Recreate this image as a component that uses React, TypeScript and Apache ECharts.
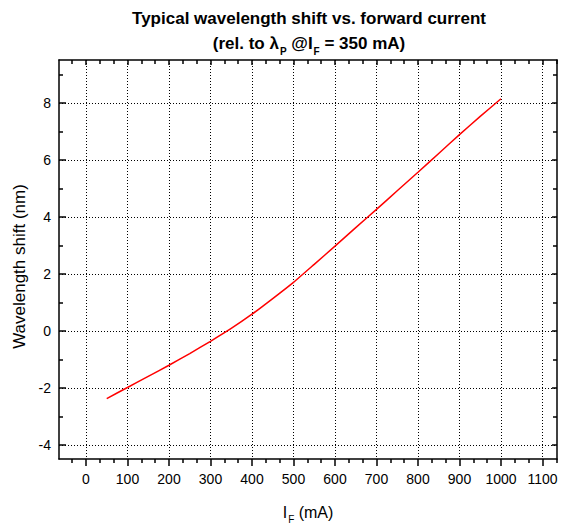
import React, { useEffect, useRef } from "react";
import * as echarts from "echarts";

// ---- Data ----
const currentsMA = [50, 100, 150, 200, 250, 300, 350, 400, 450, 500, 550, 600, 650, 700, 750, 800, 850, 900, 950, 1000];
const wavelengthShiftNm = [-2.38, -1.99, -1.6, -1.21, -0.8, -0.37, 0.08, 0.58, 1.13, 1.7, 2.33, 2.97, 3.62, 4.26, 4.91, 5.56, 6.22, 6.88, 7.52, 8.14];

// ---- Axis ticks ----
const xMajorTicks = [0, 100, 200, 300, 400, 500, 600, 700, 800, 900, 1000, 1100];
const xMinorTicks = [-33.33, 33.33, 66.67, 133.33, 166.67, 233.33, 266.67, 333.33, 366.67, 433.33, 466.67, 533.33, 566.67, 633.33, 666.67, 733.33, 766.67, 833.33, 866.67, 933.33, 966.67, 1033.33, 1066.67, 1133.33];
const yMajorTicks = [-4, -2, 0, 2, 4, 6, 8];
const yMinorTicks = [-3, -1, 1, 3, 5, 7, 9];
const xRange = [-65, 1135];
const yRange = [-4.5, 9.5];

const FONT = "'Liberation Sans', Arial, Helvetica, sans-serif";
const AXIS_LINE = { color: "#000", width: 1.5 };
const GRID_LINE = { color: "#000", width: 1, type: [1, 2] as any };

function xAxisDef(position: "bottom" | "top", ticks: number[], major: boolean) {
  const isBottom = position === "bottom";
  return {
    type: "value",
    position,
    min: xRange[0],
    max: xRange[1],
    axisLine: { show: major, onZero: false, lineStyle: AXIS_LINE },
    axisTick: {
      show: true,
      inside: !isBottom,
      length: major ? (isBottom ? 7 : 5) : 4,
      customValues: ticks,
      lineStyle: AXIS_LINE,
    },
    axisLabel: isBottom && major
      ? {
          show: true,
          customValues: ticks,
          formatter: (v: number) => String(v),
          fontSize: 14,
          color: "#000",
          fontFamily: FONT,
          margin: 13,
        }
      : { show: false },
    splitLine: isBottom && major ? { show: true, lineStyle: GRID_LINE } : { show: false },
    minorTick: { show: false },
    minorSplitLine: { show: false },
    ...(isBottom && major
      ? {
          name: "{a|I}{s|F}{a| (mA)}",
          nameLocation: "middle",
          nameGap: 41,
          nameTextStyle: {
            color: "#000",
            rich: {
              a: { fontSize: 16, fontFamily: FONT, color: "#000" },
              s: { fontSize: 10, fontFamily: FONT, color: "#000", padding: [14, 0, 0, 1] },
            },
          },
        }
      : {}),
  };
}

function yAxisDef(position: "left" | "right", ticks: number[], major: boolean) {
  const isLeft = position === "left";
  return {
    type: "value",
    position,
    min: yRange[0],
    max: yRange[1],
    axisLine: { show: major, onZero: false, lineStyle: AXIS_LINE },
    axisTick: {
      show: true,
      inside: true,
      length: major ? (isLeft ? 7 : 5) : 4,
      customValues: ticks,
      lineStyle: AXIS_LINE,
    },
    axisLabel: isLeft && major
      ? {
          show: true,
          customValues: ticks,
          formatter: (v: number) => String(v),
          fontSize: 14,
          color: "#000",
          fontFamily: FONT,
          margin: 8,
        }
      : { show: false },
    splitLine: isLeft && major ? { show: true, lineStyle: GRID_LINE } : { show: false },
    minorTick: { show: false },
    minorSplitLine: { show: false },
    ...(isLeft && major
      ? {
          name: "Wavelength shift (nm)",
          nameLocation: "middle",
          nameGap: 29,
          nameTextStyle: { color: "#000", fontSize: 17, fontFamily: FONT, padding: [0, 14, 0, 0] },
        }
      : {}),
  };
}

export default function App() {
  const ref = useRef<HTMLDivElement>(null);

  useEffect(() => {
    if (!ref.current) return;
    const chart = echarts.init(ref.current, undefined, { renderer: "svg" });
    const option: any = {
      animation: false,
      backgroundColor: "#fff",
      grid: { left: 59, right: 10, top: 60, bottom: 65, containLabel: false, outerBoundsMode: "none" },
      xAxis: [
        xAxisDef("bottom", xMajorTicks, true),
        xAxisDef("bottom", xMinorTicks, false),
        xAxisDef("top", xMajorTicks, true),
        xAxisDef("top", xMinorTicks, false),
      ],
      yAxis: [
        yAxisDef("left", yMajorTicks, true),
        yAxisDef("left", yMinorTicks, false),
        yAxisDef("right", yMajorTicks, true),
        yAxisDef("right", yMinorTicks, false),
      ],
      graphic: [
        {
          type: "text",
          x: 309,
          y: 18,
          style: {
            text: "Typical wavelength shift vs. forward current",
            fontSize: 17,
            fontWeight: "bold",
            fontFamily: FONT,
            fill: "#000",
            align: "center",
            verticalAlign: "middle",
          },
        },
        {
          type: "text",
          x: 309,
          y: 43,
          style: {
            text: "{t|(rel. to λ}{s|P}{t| @I}{s|F}{t| = 350 mA)}",
            fontFamily: FONT,
            fill: "#000",
            align: "center",
            verticalAlign: "middle",
            rich: {
              t: { fontSize: 17, fontWeight: "bold", fontFamily: FONT, fill: "#000" },
              s: { fontSize: 10, fontWeight: "bold", fontFamily: FONT, fill: "#000", padding: [16, 0, 0, 1] },
            },
          },
        },
      ],
      series: [
        {
          type: "line",
          xAxisIndex: 0,
          yAxisIndex: 0,
          data: currentsMA.map((c, i) => [c, wavelengthShiftNm[i]]),
          showSymbol: false,
          symbol: "none",
          smooth: 0.2,
          lineStyle: { color: "#ff0000", width: 1.5 },
          itemStyle: { color: "#ff0000" },
        },
      ],
    };
    chart.setOption(option);
    return () => chart.dispose();
  }, []);

  return (
    <div
      ref={ref}
      style={{ position: "absolute", left: 0, top: 0, width: 567, height: 524, background: "#fff" }}
    />
  );
}
